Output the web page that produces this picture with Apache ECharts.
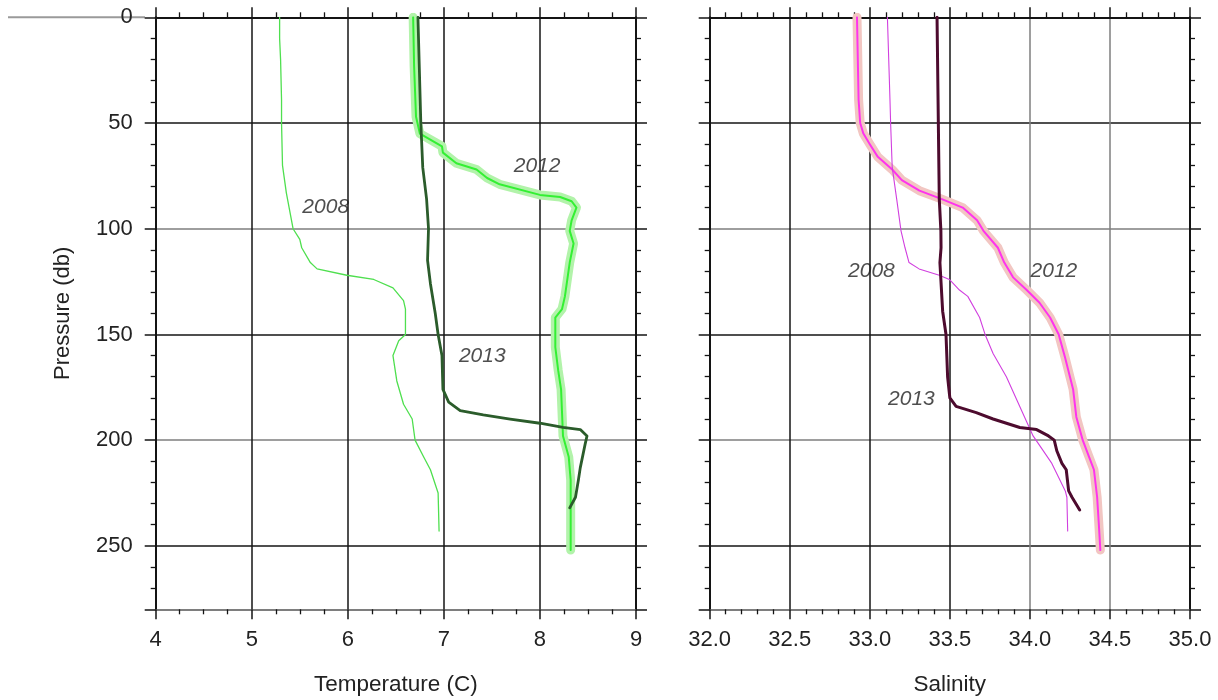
<!DOCTYPE html>
<html>
<head>
<meta charset="utf-8">
<script src="https://cdn.jsdelivr.net/npm/echarts@6/dist/echarts.min.js"></script>
<style>
html,body{margin:0;padding:0;background:#fff;}
#chart{width:1218px;height:700px;}
</style>
</head>
<body>
<div id="chart"></div>
<script>
// ---------- DATA ----------
// Temperature profiles (pressure in db, temperature in C)
const t2008P = [0, 10, 20, 39, 50, 70, 83, 100, 105, 109, 116, 119, 122, 124, 128, 134, 138, 150, 153, 160, 172, 183, 190, 200, 208, 214, 225, 243];
const t2008T = [5.29, 5.29, 5.30, 5.31, 5.31, 5.32, 5.36, 5.43, 5.50, 5.52, 5.61, 5.68, 5.99, 6.27, 6.47, 6.58, 6.60, 6.60, 6.53, 6.47, 6.51, 6.58, 6.67, 6.70, 6.79, 6.86, 6.94, 6.95];

const t2012P = [0, 23, 47, 55, 61, 64, 69, 72, 76, 79, 84, 85, 87, 90, 96, 101, 107, 116, 132, 138, 142, 156, 167, 176, 187, 198, 208, 219, 235, 252];
const t2012T = [6.68, 6.69, 6.71, 6.75, 6.98, 6.99, 7.13, 7.34, 7.45, 7.58, 8.00, 8.21, 8.33, 8.38, 8.33, 8.31, 8.35, 8.31, 8.26, 8.23, 8.16, 8.16, 8.19, 8.22, 8.23, 8.24, 8.30, 8.32, 8.32, 8.32];

const t2013P = [0, 50, 71, 86, 100, 115, 126, 140, 150, 160, 176, 182, 186, 188, 190, 192, 194, 195, 198, 202, 213, 219, 227, 232];
const t2013T = [6.73, 6.76, 6.78, 6.82, 6.84, 6.83, 6.86, 6.91, 6.94, 6.98, 6.99, 7.05, 7.17, 7.41, 7.69, 8.00, 8.24, 8.42, 8.49, 8.47, 8.42, 8.40, 8.37, 8.31];

// Salinity profiles
const s2008P = [0, 39, 50, 71, 86, 101, 109, 116, 119, 122, 124, 129, 132, 142, 150, 159, 170, 186, 198, 211, 224, 227, 243];
const s2008S = [33.11, 33.126, 33.13, 33.14, 33.168, 33.195, 33.22, 33.245, 33.308, 33.434, 33.497, 33.56, 33.612, 33.686, 33.72, 33.77, 33.853, 33.948, 34.02, 34.137, 34.221, 34.231, 34.236];

const s2012P = [0, 39, 50, 55, 60, 66, 72, 77, 82, 86, 90, 96, 101, 109, 116, 123, 129, 135, 142, 150, 161, 170, 176, 189, 200, 208, 214, 227, 239, 252];
const s2012S = [32.92, 32.93, 32.94, 32.96, 33.00, 33.05, 33.14, 33.20, 33.31, 33.45, 33.58, 33.67, 33.71, 33.80, 33.84, 33.895, 33.98, 34.06, 34.126, 34.18, 34.22, 34.25, 34.27, 34.29, 34.33, 34.37, 34.40, 34.42, 34.43, 34.44];

const s2013P = [0, 86, 101, 109, 116, 139, 150, 170, 180, 184, 187, 190, 194, 195, 198, 200, 205, 211, 214, 224, 227, 233];
const s2013S = [33.42, 33.434, 33.444, 33.445, 33.438, 33.455, 33.476, 33.486, 33.50, 33.539, 33.665, 33.77, 33.937, 34.042, 34.116, 34.152, 34.168, 34.20, 34.227, 34.242, 34.263, 34.311];

// Curve labels (data coordinates)
const tempLabelText = ['2008', '2012', '2013'];
const tempLabelX = [5.77, 7.97, 7.40];
const tempLabelP = [90, 70.2, 160.1];
const salLabelText = ['2008', '2012', '2013'];
const salLabelX = [33.01, 34.15, 33.26];
const salLabelP = [120.3, 120.3, 180.7];

// Axis ticks
const tempTicks = [4, 5, 6, 7, 8, 9];
const salTicks = [32.0, 32.5, 33.0, 33.5, 34.0, 34.5, 35.0];
const presTicks = [0, 50, 100, 150, 200, 250];
const presMax = 280;

// ---------- BUILD ----------
const FONT = "'Liberation Sans', Arial, Helvetica, sans-serif";
const pairs = (xs, ps) => xs.map((v, i) => [v, ps[i]]);
const labels = (xs, ps, txt) => xs.map((v, i) => ({ value: [v, ps[i]], name: txt[i] }));

const DARK = '#141414';
const GRAY = '#7e7e7e';

function xAxisPair(gi, ticks, minorSplit, splitColors, fmt, name) {
  const min = ticks[0], max = ticks[ticks.length - 1], interval = ticks[1] - ticks[0];
  const tick = { show: true, length: 10, lineStyle: { color: DARK, width: 1.5 } };
  const minor = { show: true, splitNumber: minorSplit, length: 5, lineStyle: { color: DARK, width: 1.3 } };
  return [
    {
      type: 'value', gridIndex: gi, position: 'bottom', min, max, interval,
      name, nameLocation: 'middle', nameGap: 64,
      nameTextStyle: { fontFamily: FONT, fontSize: 22.5, color: '#222' },
      axisLine: { show: true, onZero: false, lineStyle: { color: GRAY, width: 2 } },
      axisTick: tick, minorTick: minor,
      axisLabel: { fontFamily: FONT, fontSize: 22, color: '#222', margin: 20, formatter: fmt },
      splitLine: { show: true, lineStyle: { color: splitColors, width: 1.5 } }
    },
    {
      type: 'value', gridIndex: gi, position: 'top', min, max, interval,
      axisLine: { show: true, onZero: false, lineStyle: { color: DARK, width: 2 } },
      axisTick: tick, minorTick: minor,
      axisLabel: { show: false }, splitLine: { show: false }
    }
  ];
}

function yAxisPair(gi, showLabels, name) {
  const tick = { show: true, length: 11, lineStyle: { color: DARK, width: 1.5 } };
  const minor = { show: true, splitNumber: 5, length: 5, lineStyle: { color: DARK, width: 1.3 } };
  const interval = presTicks[1] - presTicks[0];
  const splitColors = presTicks.map(v => (v === 100 || v === 200) ? GRAY : DARK).concat([GRAY]);
  return [
    {
      type: 'value', gridIndex: gi, position: 'left', inverse: true,
      min: presTicks[0], max: presMax, interval,
      name: showLabels ? name : '', nameLocation: 'middle', nameGap: 82, nameRotate: 90,
      nameTextStyle: { fontFamily: FONT, fontSize: 22, color: '#222' },
      axisLine: { show: true, onZero: false, lineStyle: { color: DARK, width: 2 } },
      axisTick: tick, minorTick: minor,
      axisLabel: {
        show: showLabels, fontFamily: FONT, fontSize: 22, color: '#222', margin: 23,
        formatter: v => (presTicks.indexOf(v) >= 0 ? String(v) : '')
      },
      splitLine: { show: true, lineStyle: { color: splitColors, width: 1.5 } }
    },
    {
      type: 'value', gridIndex: gi, position: 'right', inverse: true,
      min: presTicks[0], max: presMax, interval,
      axisLine: { show: true, onZero: false, lineStyle: { color: DARK, width: 2 } },
      axisTick: tick, minorTick: minor,
      axisLabel: { show: false }, splitLine: { show: false }
    }
  ];
}

const tempSplit = tempTicks.map(() => DARK);
const salSplit = salTicks.map(v => (v === 34.0 || v === 34.5) ? GRAY : DARK);

function line(xi, yi, data, color, width, z) {
  return {
    type: 'line', xAxisIndex: xi, yAxisIndex: yi, data, symbol: 'none', smooth: false,
    lineStyle: { color, width, cap: 'round', join: 'round' }, z, silent: true
  };
}
function labelSeries(xi, yi, data) {
  return {
    type: 'scatter', xAxisIndex: xi, yAxisIndex: yi, data, symbolSize: 1, silent: true, z: 10,
    itemStyle: { color: 'rgba(0,0,0,0)' },
    label: {
      show: true, position: 'inside', formatter: p => p.name,
      fontFamily: FONT, fontSize: 21, fontStyle: 'italic', color: '#222'
    }
  };
}

const chart = echarts.init(document.getElementById('chart'), null, { renderer: 'canvas' });
chart.setOption({
  animation: false,
  backgroundColor: '#fff',
  grid: [
    { left: 155.7, top: 17.3, width: 480.3, height: 592, containLabel: false, outerBoundsMode: 'none' },
    { left: 709.7, top: 17.3, width: 480.3, height: 592, containLabel: false, outerBoundsMode: 'none' }
  ],
  xAxis: [
    ...xAxisPair(0, tempTicks, 4, tempSplit, v => String(v), 'Temperature (C)'),
    ...xAxisPair(1, salTicks, 5, salSplit, v => v.toFixed(1), 'Salinity')
  ],
  yAxis: [
    ...yAxisPair(0, true, 'Pressure (db)'),
    ...yAxisPair(1, false, '')
  ],
  graphic: [
    { type: 'line', z: -1, shape: { x1: 8, y1: 17.3, x2: 145, y2: 17.3 }, style: { stroke: '#9a9a9a', lineWidth: 2 } }
  ],
  series: [
    line(0, 0, pairs(t2012T, t2012P), '#b2f3aa', 9, 2),
    line(0, 0, pairs(t2012T, t2012P), '#33f033', 2, 3),
    line(0, 0, pairs(t2008T, t2008P), '#4fdf4f', 1.3, 4),
    line(0, 0, pairs(t2013T, t2013P), '#2b5c2b', 2.8, 5),
    labelSeries(0, 0, labels(tempLabelX, tempLabelP, tempLabelText)),

    line(2, 2, pairs(s2012S, s2012P), '#f2c6c2', 9, 2),
    line(2, 2, pairs(s2012S, s2012P), '#ff33ee', 2, 3),
    line(2, 2, pairs(s2008S, s2008P), '#d13fdf', 1.1, 4),
    line(2, 2, pairs(s2013S, s2013P), '#4d0b2e', 3, 5),
    labelSeries(2, 2, labels(salLabelX, salLabelP, salLabelText))
  ]
});
</script>
</body>
</html>
